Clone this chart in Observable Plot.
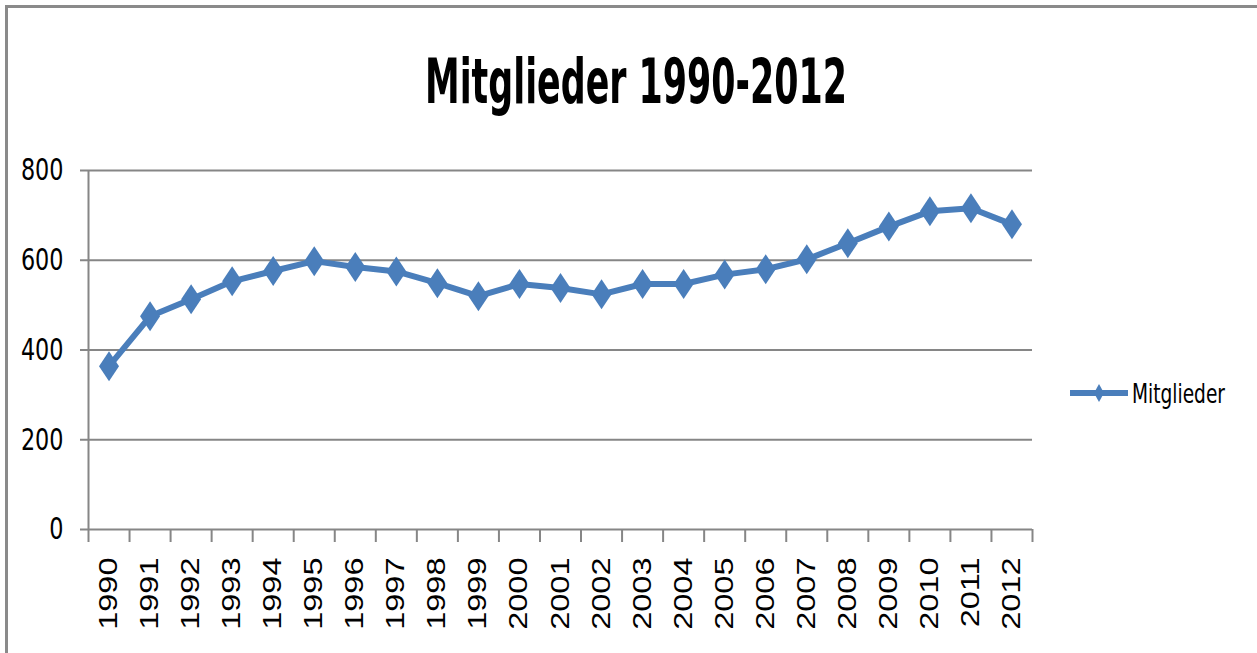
<!DOCTYPE html>
<html>
<head>
<meta charset="utf-8">
<script src="https://cdn.jsdelivr.net/npm/d3@7"></script>
<script src="https://cdn.jsdelivr.net/npm/@observablehq/plot@0.6"></script>
<style>
  html, body { margin: 0; padding: 0; background: #fff; }
  #wrap { position: relative; width: 1257px; height: 653px; overflow: hidden; background: #fff; }
  #frame { position: absolute; left: 5px; top: 5px; right: -20px; bottom: -20px;
           border-top: 3px solid #8a8a8a; border-left: 3px solid #8a8a8a; }
  #title { position: absolute; left: 425px; top: 55px; white-space: nowrap;
           font-family: "DejaVu Sans Condensed", "Liberation Sans Narrow", sans-serif;
           font-weight: bold; font-size: 53px; line-height: 1; color: #000;
           transform-origin: 0 50%; }
  #chart { position: absolute; left: 0; top: 140px; }
  #legend { position: absolute; left: 1068px; top: 378px; height: 30px; display: flex; align-items: center; }
  #legend span { font-family: "DejaVu Sans Condensed", "Liberation Sans Narrow", sans-serif;
                 font-size: 27px; color: #000; margin-left: 2px; white-space: nowrap;
                 display: inline-block; transform-origin: 0 50%; }
</style>
</head>
<body>
<div id="wrap">
  <div id="frame"></div>
  <div id="title">Mitglieder 1990-2012</div>
  <div id="chart"></div>
  <div id="legend"></div>
</div>
<script>
const seriesName = "Mitglieder";
const years = [1990, 1991, 1992, 1993, 1994, 1995, 1996, 1997, 1998, 1999, 2000, 2001,
               2002, 2003, 2004, 2005, 2006, 2007, 2008, 2009, 2010, 2011, 2012];
const members = [364, 475, 513, 553, 576, 598, 585, 575, 549, 520, 547, 538,
                 524, 547, 547, 568, 580, 602, 638, 675, 709, 716, 680];
const yTicks = [0, 200, 400, 600, 800];

const data = years.map((year, i) => ({year, value: members[i]}));
const boundaries = years.map(y => y - 0.5).concat([years[years.length - 1] + 0.5]);

const blue = "#4a7ebb";
const grid = "#868686";
const tallDiamond = (hw, hh) => ({
  draw(context) {
    context.moveTo(0, -hh);
    context.lineTo(hw, 0);
    context.lineTo(0, hh);
    context.lineTo(-hw, 0);
    context.closePath();
  }
});

const chart = Plot.plot({
  width: 1257,
  height: 513,
  marginTop: 30,
  marginBottom: 124,
  marginLeft: 88,
  marginRight: 225,
  style: {background: "transparent", color: "#000"},
  x: {type: "linear", domain: [boundaries[0], boundaries[boundaries.length - 1]], label: null},
  y: {domain: [0, 800], label: null},
  marks: [
    Plot.ruleY(yTicks, {stroke: grid, strokeWidth: 2, insetLeft: -8}),
    Plot.ruleX([boundaries[0]], {y1: 0, y2: 800, stroke: grid, strokeWidth: 2}),
    Plot.axisY({ticks: yTicks, tickSize: 0, tickPadding: 25, label: null,
                fontSize: 31, fontFamily: "DejaVu Sans Condensed, sans-serif",
                fill: "#000", tickFormat: d => String(d)}),
    Plot.axisX({ticks: boundaries, tickSize: 13, tickFormat: () => "", label: null,
                stroke: grid, strokeWidth: 2}),
    Plot.axisX({ticks: years, tickSize: 0, tickPadding: 28, tickRotate: -90, label: null,
                tickFormat: d => String(d), fontSize: 25,
                fontFamily: "Liberation Sans, Arial, sans-serif", fill: "#000"}),
    Plot.line(data, {x: "year", y: "value", stroke: blue, strokeWidth: 6}),
    Plot.dot(data, {x: "year", y: "value", symbol: tallDiamond(10, 15), fill: blue, stroke: "none"})
  ]
});
document.getElementById("chart").appendChild(chart);

function stretchText(node, sx) {
  const t = node.getAttribute("transform");
  if (t) {
    node.setAttribute("transform", t + ` scale(${sx},1)`);
  } else {
    const x = +node.getAttribute("x") || 0, y = +node.getAttribute("y") || 0;
    node.setAttribute("x", 0); node.setAttribute("y", 0);
    node.setAttribute("transform", `translate(${x},${y}) scale(${sx},1)`);
  }
}
// stretch rotated year labels along their reading direction
d3.select(chart).selectAll('g[aria-label="x-axis tick label"] text').each(function() {
  if (this.textContent) stretchText(this, 1.3);
});
// narrow the y tick labels
d3.select(chart).selectAll('g[aria-label="y-axis tick label"] text').each(function() {
  if (this.textContent) stretchText(this, 0.8);
});

// title: fit width of reference
const title = document.getElementById("title");
const tw = title.getBoundingClientRect().width;
title.style.transform = `scale(${422 / tw}, 1.18)`;

// legend
const legend = document.getElementById("legend");
const sw = d3.create("svg").attr("width", 62).attr("height", 30);
sw.append("line").attr("x1", 2).attr("x2", 60).attr("y1", 15).attr("y2", 15)
  .attr("stroke", blue).attr("stroke-width", 6);
sw.append("path").attr("d", "M31,6L36,15L31,24L26,15Z").attr("fill", blue);
legend.appendChild(sw.node());
const lab = document.createElement("span");
lab.textContent = seriesName;
legend.appendChild(lab);
const lw = lab.getBoundingClientRect().width;
lab.style.transform = `scaleX(${93 / lw})`;
</script>
</body>
</html>
